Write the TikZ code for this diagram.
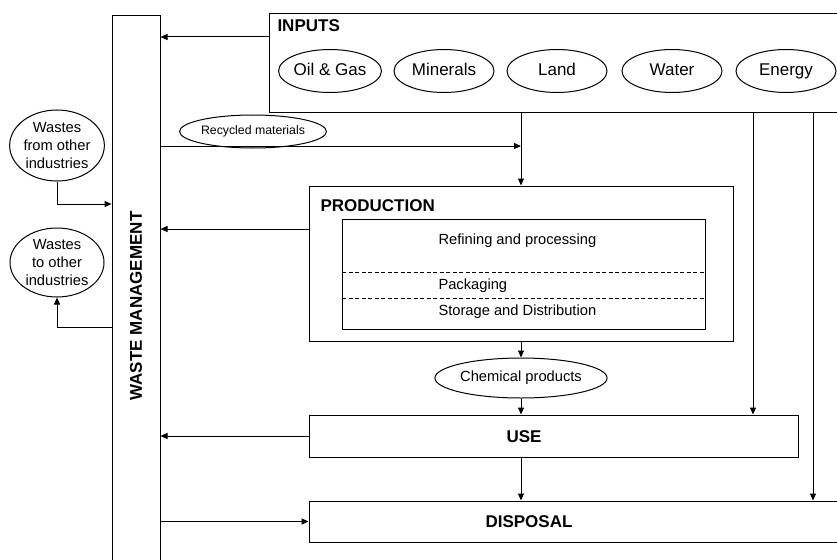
\documentclass[tikz,border=0pt]{standalone}
\usepackage{fontspec}
\setmainfont{Liberation Sans}
\usetikzlibrary{arrows.meta,shapes.geometric}
\begin{document}
\begin{tikzpicture}[x=1pt,y=-1pt,line width=1pt,
  box/.style={draw,rectangle,inner sep=0pt},
  oval/.style={draw,ellipse,inner sep=0pt,align=center},
  inoval/.style={draw,ellipse,inner sep=0pt,font=\fontsize{17}{20}\selectfont,text height=12.2pt,text depth=3.6pt,minimum width=100pt,minimum height=43pt},
  head/.style={font=\fontsize{17}{20}\selectfont\bfseries,inner sep=0pt},
  body/.style={font=\fontsize{14.7}{17.6}\selectfont,inner sep=0pt},
  arr/.style={-{Triangle[length=7pt,width=6pt]}}]
\useasboundingbox (0,0) rectangle (837,559);
\clip (0,0) rectangle (837,559);
% boxes
\node[box,minimum width=48pt,minimum height=584pt] (wm) at (136,308) {};
\node[head,rotate=90] (wmt) at (136,306) {WASTE MANAGEMENT};
\node[box,minimum width=571pt,minimum height=99pt] (inputs) at (554.5,63.5) {};
\node[head,anchor=west] (inputst) at (277,26) {INPUTS};
\node[box,minimum width=424pt,minimum height=155pt] (prod) at (521,263.5) {};
\node[head,anchor=west] (prodt) at (320,206) {PRODUCTION};
\node[box,minimum width=363pt,minimum height=110pt] (inner) at (523.5,274) {};
\coordinate (d1) at (342,272);
\coordinate (d2) at (342,298);
\draw[dash pattern=on 4pt off 2.5pt,line width=0.8pt] (d1) -- (d1 -| inner.east);
\draw[dash pattern=on 4pt off 2.5pt,line width=0.8pt] (d2) -- (d2 -| inner.east);
\node[body,anchor=base west] (ref) at (438,244) {Refining and processing};
\node[body,anchor=base west] (pack) at (438,289) {Packaging};
\node[body,anchor=base west] (stor) at (438,315) {Storage and Distribution};
\node[box,minimum width=489pt,minimum height=42pt] (use) at (553.5,436) {};
\node[head] (uset) at (524,437) {USE};
\node[box,minimum width=531pt,minimum height=41pt] (disp) at (574.5,521.5) {};
\node[head] (dispt) at (529,521.5) {DISPOSAL};
% ellipses
\node[inoval] (oil) at (330,71) {Oil \& Gas};
\node[inoval] (min) at (444,71) {Minerals};
\node[inoval] (land) at (557,71) {Land};
\node[inoval] (water) at (672,71) {Water};
\node[inoval] (energy) at (786,71) {Energy};
\node[oval,font=\fontsize{12.3}{14}\selectfont,text height=8.8pt,text depth=2.6pt,minimum width=121pt,minimum height=33pt] (rec) at (253,131.5) {Recycled materials};
\node[oval,font=\fontsize{14.7}{17.6}\selectfont,text height=10.5pt,text depth=3.1pt,minimum width=155pt,minimum height=40pt] (chem) at (521,378) {Chemical products};
\node[oval,font=\fontsize{14.7}{17.6}\selectfont,minimum width=94pt,minimum height=71pt] (wfrom) at (57,145.5) {Wastes\\from other\\industries};
\node[oval,font=\fontsize{14.7}{17.6}\selectfont,minimum width=94pt,minimum height=69pt] (wto) at (57,262.5) {Wastes\\to other\\industries};
% helper coordinates
\coordinate (yin) at (0,37);
\coordinate (rj) at (521,146);
\coordinate (yprod) at (0,229);
\coordinate (e1) at (753,0);
\coordinate (e2) at (813,0);
\coordinate (yfrom) at (0,204);
\coordinate (yto) at (0,327);
% connectors
\draw[arr] (inputs.west |- yin) -- (wm.east |- yin);
\draw[arr] (wm.east |- rj) -- (rj);
\draw[arr] (rj |- inputs.south) -- (rj |- prod.north);
\draw[arr] (prod.west |- yprod) -- (wm.east |- yprod);
\draw[arr] (rj |- prod.south) -- (chem.north);
\draw[arr] (chem.south) -- (chem.south |- use.north);
\draw[arr] (use.west) -- (wm.east |- use.west);
\draw[arr] (rj |- use.south) -- (rj |- disp.north);
\draw[arr] (wm.east |- disp.west) -- (disp.west);
\draw[arr] (e1 |- inputs.south) -- (e1 |- use.north);
\draw[arr] (e2 |- inputs.south) -- (e2 |- disp.north);
\draw[arr] (wfrom.south) |- (wm.west |- yfrom);
\draw[arr] (wm.west |- yto) -| (wto.south);
\end{tikzpicture}
\end{document}
